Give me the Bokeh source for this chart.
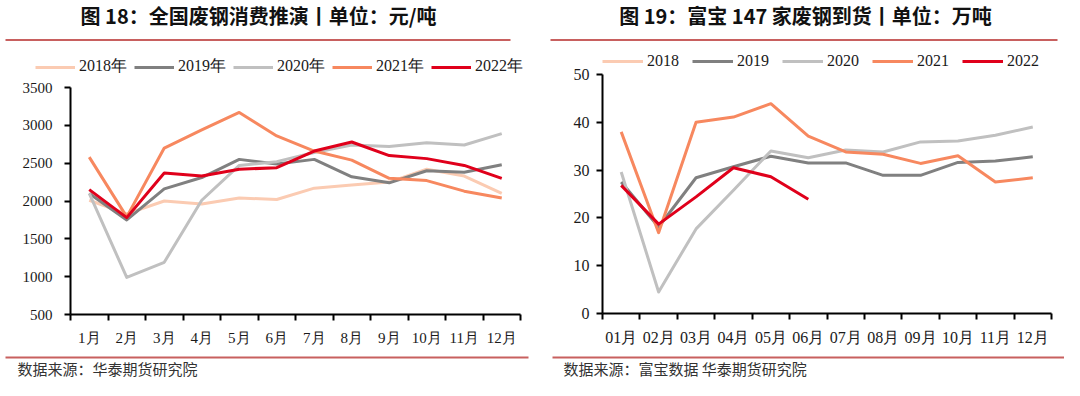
from bokeh.plotting import figure
from bokeh.models import Range1d, FixedTicker, Legend, LegendItem, Label, BoxAnnotation
from bokeh.layouts import row
from bokeh.embed import file_html
from bokeh.resources import INLINE

# ---------------- data: left panel (元/吨) ----------------
months_left = ["1月", "2月", "3月", "4月", "5月", "6月", "7月", "8月", "9月", "10月", "11月", "12月"]
left_2018 = [2010, 1830, 2000, 1960, 2040, 2020, 2170, 2210, 2250, 2420, 2330, 2100]
left_2019 = [2100, 1750, 2160, 2310, 2550, 2490, 2550, 2320, 2240, 2400, 2380, 2480]
left_2020 = [2100, 990, 1190, 2010, 2470, 2520, 2640, 2740, 2720, 2770, 2740, 2890]
left_2021 = [2580, 1790, 2700, 2940, 3170, 2860, 2660, 2540, 2300, 2270, 2130, 2040]
left_2022 = [2150, 1780, 2370, 2330, 2420, 2440, 2660, 2780, 2600, 2560, 2470, 2300]
left_years = ["2018年", "2019年", "2020年", "2021年", "2022年"]
left_yticks = [500, 1000, 1500, 2000, 2500, 3000, 3500]

# ---------------- data: right panel (万吨) ----------------
NaN = float("nan")
months_right = ["01月", "02月", "03月", "04月", "05月", "06月", "07月", "08月", "09月", "10月", "11月", "12月"]
right_2018 = [NaN] * 12          # legend entry only, no values shown in the chart
right_2019 = [27.5, 18.1, 28.4, 30.7, 32.9, 31.5, 31.5, 28.9, 28.9, 31.6, 31.9, 32.8]
right_2020 = [29.6, 4.5, 17.7, 25.8, 34.0, 32.6, 34.2, 33.8, 35.9, 36.1, 37.3, 39.0]
right_2021 = [38.0, 16.9, 40.0, 41.1, 43.9, 37.1, 33.8, 33.3, 31.4, 33.0, 27.5, 28.4]
right_2022 = [26.8, 18.7, 24.4, 30.5, 28.6, 23.9]
right_years = ["2018", "2019", "2020", "2021", "2022"]
right_yticks = [0, 10, 20, 30, 40, 50]

colors = ["#FBCBB2", "#808080", "#C0C0C0", "#F7885F", "#E0001B"]

SEP = "#C8605F"
CJK = "Noto Sans CJK SC"
SERIF = "Liberation Serif"
W, H = 532, 380


def make_panel(months, series, years, yticks, plot_px, title, source,
               tick_font, legend_loc, legend_glyph, legend_spacing, y_standoff,
               sep_top, sep_bot, title_pos, source_pos):
    # plot_px: (left, right, top, bottom) pixel edges of the data area inside the figure
    pl, pr, pt, pb = plot_px
    n = len(months)
    y0, y1 = yticks[0], yticks[-1]
    xs_per_px = n / (pr - pl)
    ys_per_px = (y1 - y0) / (pb - pt)
    x_range = Range1d(-pl * xs_per_px, n + (W - pr) * xs_per_px)
    y_range = Range1d(y0 - (H - pb) * ys_per_px, y1 + pt * ys_per_px)

    p = figure(width=W, height=H, output_backend="svg", toolbar_location=None,
               x_range=x_range, y_range=y_range, title=None,
               min_border_left=0, min_border_right=0, min_border_top=0, min_border_bottom=0)
    p.outline_line_color = None
    p.grid.visible = False
    p.background_fill_color = "white"
    p.border_fill_color = "white"

    centers = [i + 0.5 for i in range(n)]
    p.xaxis.fixed_location = y0
    p.xaxis.bounds = (0, n)
    p.xaxis.ticker = FixedTicker(ticks=centers, minor_ticks=list(range(n + 1)))
    p.xaxis.major_label_overrides = {c: m for c, m in zip(centers, months)}
    p.xaxis.major_tick_out = 0
    p.xaxis.major_tick_in = 0
    p.xaxis.minor_tick_out = 6
    p.xaxis.minor_tick_in = 0
    p.xaxis.minor_tick_line_color = "black"
    p.xaxis.minor_tick_line_width = 2
    p.xaxis.axis_line_width = 2
    p.xaxis.axis_line_color = "black"
    p.xaxis.major_label_text_font = SERIF
    p.xaxis.major_label_text_font_size = tick_font
    p.xaxis.major_label_text_color = "#1a1a1a"
    p.xaxis.major_label_standoff = 9

    p.yaxis.fixed_location = 0
    p.yaxis.bounds = (y0, y1)
    p.yaxis.ticker = FixedTicker(ticks=yticks)
    p.yaxis.major_tick_out = 6
    p.yaxis.major_tick_in = 0
    p.yaxis.minor_tick_out = 0
    p.yaxis.minor_tick_in = 0
    p.yaxis.major_tick_line_width = 2
    p.yaxis.axis_line_width = 2
    p.yaxis.axis_line_color = "black"
    p.yaxis.major_label_text_font = SERIF
    p.yaxis.major_label_text_font_size = tick_font
    p.yaxis.major_label_text_color = "#1a1a1a"
    p.yaxis.major_label_standoff = y_standoff

    items = []
    for vals, yr, col in zip(series, years, colors):
        xs = centers[:len(vals)]
        r = p.line(xs, vals, line_color=col, line_width=3, line_join="round")
        items.append(LegendItem(label=yr, renderers=[r]))

    legend = Legend(items=items, location=legend_loc, orientation="horizontal",
                    glyph_width=legend_glyph, glyph_height=16, label_height=18,
                    label_standoff=4, spacing=legend_spacing, padding=0, margin=0,
                    border_line_color=None, background_fill_alpha=0,
                    label_text_font=SERIF, label_text_font_size="16px",
                    label_text_color="#1a1a1a")
    p.add_layout(legend)

    p.add_layout(Label(x=title_pos[0], y=title_pos[1], x_units="screen", y_units="screen",
                       text=title, text_font=CJK, text_font_size="20px",
                       text_font_style="bold", text_color="#111111",
                       text_align="center", text_baseline="middle"))
    p.add_layout(Label(x=source_pos[0], y=source_pos[1], x_units="screen", y_units="screen",
                       text=source, text_font=CJK, text_font_size="15px",
                       text_color="#333333", text_align="left", text_baseline="middle"))

    for (l, r_, t, b) in (sep_top, sep_bot):
        p.add_layout(BoxAnnotation(left=l, right=r_, top=t, bottom=b,
                                   left_units="screen", right_units="screen",
                                   top_units="screen", bottom_units="screen",
                                   fill_color=SEP, fill_alpha=1.0, line_color=None))
    return p


# figure pixel = reference pixel (right figure offset by 532); screen y measured up from bottom
p1 = make_panel(months_left, [left_2018, left_2019, left_2020, left_2021, left_2022], left_years,
                left_yticks, (70, 520, 87, 314),
                "图 18：全国废钢消费推演丨单位：元/吨", "数据来源：华泰期货研究院",
                "15px", (35, 303), 40, 7, 12,
                (5, 510, 341.5, 339.5), (5, 528, 24, 22),
                (258, 365.5), (17, 12))

p2 = make_panel(months_right, [right_2018, right_2019, right_2020, right_2021, right_2022], right_years,
                right_yticks, (70, 519, 74, 313),
                "图 19：富宝 147 家废钢到货丨单位：万吨", "数据来源：富宝数据 华泰期货研究院",
                "16px", (70, 310), 41, 13, 7,
                (18, 525, 341.5, 339.5), (20, 532, 24, 22),
                (273, 365.5), (31, 12))

layout = row(p1, p2)
open("out.html", "w").write(file_html(layout, INLINE))
